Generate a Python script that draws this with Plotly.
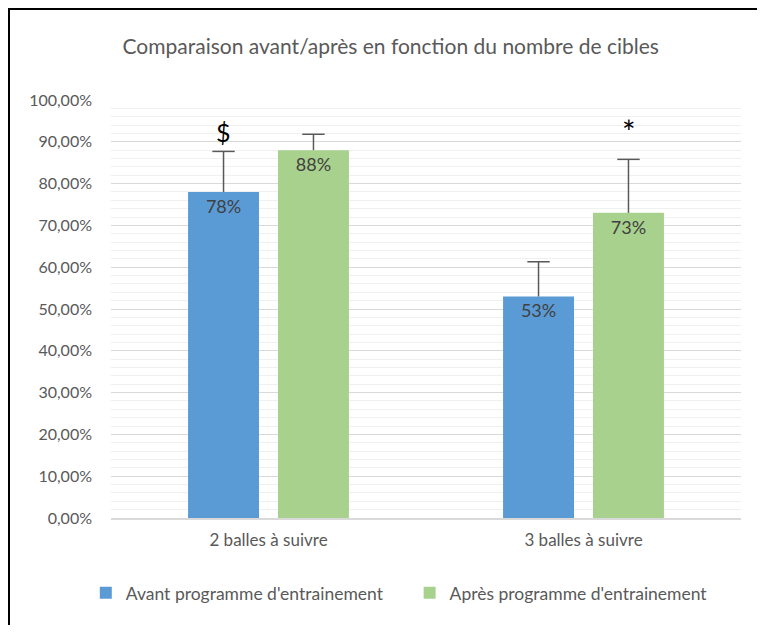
import plotly.graph_objects as go

categories = ["2 balles à suivre", "3 balles à suivre"]
avant = [0.78, 0.53]
apres = [0.88, 0.73]
avant_err = [0.097, 0.083]
apres_err = [0.038, 0.128]

FONT = "Lato"
GREY = "#595959"

fig = go.Figure()

series = [
    ("Avant programme d'entrainement", avant, avant_err, "#5B9BD5", "a", "legend"),
    ("Après programme d'entrainement", apres, apres_err, "#A9D18E", "b", "legend2"),
]

for name, vals, errs, color, grp, leg in series:
    fig.add_trace(go.Bar(
        x=categories, y=vals, name=name, offsetgroup=grp, legend=leg,
        marker=dict(color=color, line=dict(width=0)),
        # upward error only, no caps here (cap added below)
        error_y=dict(type="data", array=errs, arrayminus=[0, 0], symmetric=False,
                     color=GREY, thickness=1.5, width=0),
        texttemplate="%{y:.0%}", textposition="inside", insidetextanchor="end",
        textangle=0, constraintext="none",
        textfont=dict(family=FONT, size=18, color="#404040"),
    ))

# top caps of the error bars
for name, vals, errs, color, grp, leg in series:
    fig.add_trace(go.Scatter(
        x=categories, y=[v + e for v, e in zip(vals, errs)], offsetgroup=grp,
        mode="markers", showlegend=False, hoverinfo="skip",
        marker=dict(symbol="line-ew", size=16, line=dict(color=GREY, width=1.5)),
    ))

# significance markers
fig.add_annotation(x=categories[0], xshift=-45, y=avant[0] + avant_err[0], yanchor="bottom",
                   yshift=2, text="$", showarrow=False,
                   font=dict(family=FONT, size=25, color="black"))
fig.add_annotation(x=categories[1], xshift=45, y=apres[1] + apres_err[1], yanchor="bottom",
                   yshift=6, text="*", showarrow=False,
                   font=dict(family=FONT, size=32, color="black"))

# outer frame (left and top edges visible)
fig.add_shape(type="line", xref="paper", yref="paper", x0=-0.1619, x1=-0.1619, y0=1.22, y1=-0.3,
              line=dict(color="black", width=2))
fig.add_shape(type="line", xref="paper", yref="paper", x0=-0.1635, x1=1.1, y0=1.2176, y1=1.2176,
              line=dict(color="black", width=2))

legend_style = dict(orientation="h", y=-0.179, yanchor="middle", xanchor="left",
                    font=dict(family=FONT, size=17.5, color=GREY), itemwidth=30)

fig.update_layout(
    width=749, height=617,
    margin=dict(l=103, r=16, t=92, b=107, autoexpand=False),
    paper_bgcolor="white", plot_bgcolor="white",
    separators=", ",
    title=dict(text="Comparaison avant/après en fonction du nombre de cibles",
               x=0.511, xanchor="center", y=1 - 39 / 617, yanchor="middle",
               font=dict(family=FONT, size=21, color=GREY)),
    barmode="group", bargap=0.429, bargroupgap=0.211,
    scattermode="group", scattergap=0.429,
    font=dict(family=FONT, size=14, color=GREY),
    legend=dict(x=-0.04, **legend_style),
    legend2=dict(x=0.474, **legend_style),
    showlegend=True,
    xaxis=dict(showgrid=False, showline=True, linecolor="#d9d9d9", linewidth=1.5,
               ticks="", tickfont=dict(family=FONT, size=17, color=GREY),
               ticklabelstandoff=6),
    yaxis=dict(range=[0, 1.0], dtick=0.1, tickformat=".2%", showline=False,
               gridcolor="#d9d9d9", gridwidth=1.2, zeroline=False,
               minor=dict(dtick=0.02, showgrid=True, gridcolor="#f0f0f0", gridwidth=1),
               tickfont=dict(family=FONT, size=16, color=GREY), ticklabelstandoff=18),
)

fig.write_html("out.html")
